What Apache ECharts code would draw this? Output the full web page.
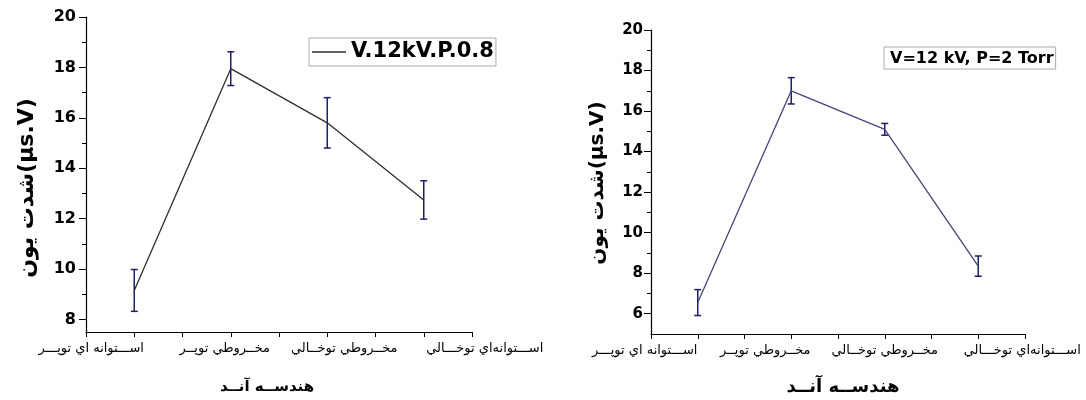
<!DOCTYPE html>
<html><head><meta charset="utf-8">
<script src="https://cdn.jsdelivr.net/npm/echarts@6/dist/echarts.min.js"></script>
<style>html,body{margin:0;padding:0;background:#fff}#c{width:1086px;height:400px}</style>
</head><body><div id="c"></div>
<script>
// ---- data ----
const categories = ['اســـتوانه اي توپـــر', 'مخــروطي توپــر', 'مخــروطي توخــالي', 'اســـتوانه‌اي توخـــالي'];
const leftValues = [9.15, 17.95, 15.8, 12.74];
const leftErrors = [0.83, 0.67, 1.0, 0.76];
const rightValues = [6.55, 17.0, 15.1, 8.35];
const rightErrors = [0.64, 0.65, 0.29, 0.5];
const leftMajorTicks = [8, 10, 12, 14, 16, 18, 20];
const leftMinorTicks = [9, 11, 13, 15, 17, 19];
const rightMajorTicks = [6, 8, 10, 12, 14, 16, 18, 20];
const rightMinorTicks = [7, 9, 11, 13, 15, 17, 19];
const leftLegend = 'V.12kV.P.0.8';
const rightLegend = 'V=12 kV, P=2 Torr';
const yTitle = 'شدت يون(µs.V)';
const xTitle = 'هندســه آنــد';

// ---- helpers ----
const arabicFont = '"DejaVu Sans", "Liberation Sans", sans-serif';
const boldFont = '"DejaVu Sans", "Liberation Sans", sans-serif';
function richFor(shifts, size) {
  const r = {};
  shifts.forEach((d, i) => {
    r['l' + i] = {
      fontFamily: arabicFont, fontSize: size, color: '#000',
      padding: d < 0 ? [0, -2 * d, 0, 0] : [0, 0, 0, 2 * d]
    };
  });
  return r;
}
function xAxisFor(gridIndex, shifts) {
  return {
    type: 'value', gridIndex, min: -0.5, max: 3.5, interval: 0.5,
    axisLine: { show: true, onZero: false, lineStyle: { color: '#000', width: 1.2 } },
    axisTick: { show: true, length: 5, inside: false, lineStyle: { color: '#000' } },
    splitLine: { show: false },
    axisLabel: {
      margin: 10,
      formatter: v => {
        const i = Math.round(v);
        return (Math.abs(v - i) < 1e-6 && i >= 0 && i < categories.length) ? '{l' + i + '|' + categories[i] + '}' : '';
      },
      rich: richFor(shifts, 13)
    }
  };
}
function yAxesFor(gridIndex, min, major, minor, fontSize, margin) {
  return [{
    type: 'value', gridIndex, min, max: 20, position: 'left',
    axisLine: { show: true, onZero: false, lineStyle: { color: '#000', width: 1.2 } },
    axisTick: { show: true, inside: false, length: 7, customValues: major, lineStyle: { color: '#000' } },
    splitLine: { show: false },
    axisLabel: { customValues: major, inside: false, margin, color: '#000', fontWeight: 'bold', fontSize, fontFamily: boldFont }
  }, {
    type: 'value', gridIndex, min, max: 20, position: 'left',
    axisLine: { show: false, onZero: false },
    axisTick: { show: true, inside: false, length: 4, customValues: minor, lineStyle: { color: '#000' } },
    splitLine: { show: false },
    axisLabel: { show: false }
  }];
}
function errSeries(xi, yi, vals, errs, color) {
  return {
    type: 'custom', xAxisIndex: xi, yAxisIndex: yi, silent: true, z: 3,
    data: vals.map((v, i) => [i, v, errs[i]]),
    encode: { x: 0, y: 1 },
    renderItem: (params, api) => {
      const x = api.value(0), v = api.value(1), e = api.value(2);
      const top = api.coord([x, v + e]);
      const bot = api.coord([x, v - e]);
      const cw = 3.5;
      const st = { stroke: color, lineWidth: 1.5 };
      return {
        type: 'group', children: [
          { type: 'line', shape: { x1: top[0], y1: top[1], x2: bot[0], y2: bot[1] }, style: st },
          { type: 'line', shape: { x1: top[0] - cw, y1: top[1], x2: top[0] + cw, y2: top[1] }, style: st },
          { type: 'line', shape: { x1: bot[0] - cw, y1: bot[1], x2: bot[0] + cw, y2: bot[1] }, style: st }
        ]
      };
    }
  };
}

const chart = echarts.init(document.getElementById('c'), null, { renderer: 'canvas' });
const yL = yAxesFor(0, 7.5, leftMajorTicks, leftMinorTicks, 16, 10);
const yR = yAxesFor(1, 5, rightMajorTicks, rightMinorTicks, 15, 8);
chart.setOption({
  animation: false,
  backgroundColor: '#fff',
  grid: [
    { left: 86, top: 17, width: 386, height: 315 },
    { left: 651, top: 30, width: 374, height: 304 }
  ],
  xAxis: [xAxisFor(0, [-43, -6, 17, 61]), xAxisFor(1, [-53, -26, 0, 44])],
  yAxis: [yL[0], yL[1], yR[0], yR[1]],
  legend: [
    {
      data: [leftLegend], left: 309, top: 38, orient: 'horizontal',
      padding: [2, 2, 2, 3], borderColor: '#aaa', borderWidth: 1,
      icon: 'rect', itemWidth: 34, itemHeight: 1.5,
      textStyle: { fontSize: 21, fontWeight: 'bold', color: '#000', fontFamily: boldFont, lineHeight: 24 }
    },
    {
      data: [rightLegend], left: 884, top: 47,
      padding: [2, 2, 1, 0], borderColor: '#aaa', borderWidth: 1,
      itemWidth: 0, itemHeight: 0,
      textStyle: { fontSize: 16, fontWeight: 'bold', color: '#000', fontFamily: boldFont, lineHeight: 19 }
    }
  ],
  graphic: [
    { type: 'text', x: 27, y: 188, rotation: Math.PI / 2, style: { text: yTitle, font: 'bold 22px ' + boldFont, fill: '#000', align: 'center', verticalAlign: 'middle' } },
    { type: 'text', x: 598, y: 183, rotation: Math.PI / 2, style: { text: yTitle, font: 'bold 20px ' + boldFont, fill: '#000', align: 'center', verticalAlign: 'middle' } },
    { type: 'text', x: 267, y: 387, style: { text: xTitle, font: 'bold 15px ' + arabicFont, fill: '#000', align: 'center', verticalAlign: 'middle' } },
    { type: 'text', x: 843, y: 387, style: { text: xTitle, font: 'bold 18px ' + arabicFont, fill: '#000', align: 'center', verticalAlign: 'middle' } }
  ],
  series: [
    {
      name: leftLegend, type: 'line', xAxisIndex: 0, yAxisIndex: 0, symbol: 'none',
      data: leftValues.map((v, i) => [i, v]),
      lineStyle: { color: '#2e2e2e', width: 1.3 }, itemStyle: { color: '#2e2e2e' }
    },
    errSeries(0, 0, leftValues, leftErrors, '#1f1f66'),
    {
      name: rightLegend, type: 'line', xAxisIndex: 1, yAxisIndex: 2, symbol: 'none',
      data: rightValues.map((v, i) => [i, v]),
      lineStyle: { color: '#45457a', width: 1.3 }, itemStyle: { color: '#45457a' }
    },
    errSeries(1, 2, rightValues, rightErrors, '#1f1f66')
  ]
});
</script></body></html>
